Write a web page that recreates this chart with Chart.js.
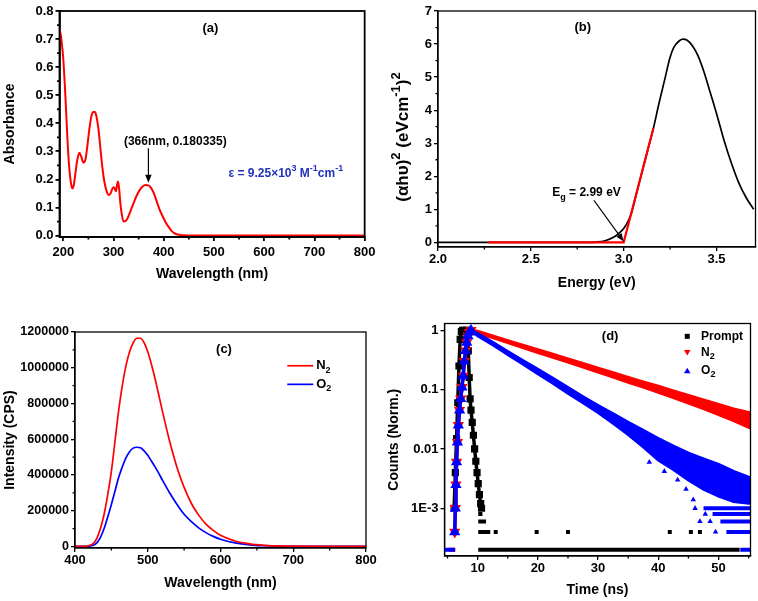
<!DOCTYPE html>
<html>
<head>
<meta charset="utf-8">
<script src="https://cdn.jsdelivr.net/npm/chart.js@4.4.1/dist/chart.umd.min.js"></script>
<style>
html,body{margin:0;padding:0;background:#fff;}
body{width:758px;height:601px;position:relative;overflow:hidden;}
canvas{position:absolute;}
</style>
</head>
<body>
<canvas id="chartA" width="379" height="300" style="left:0px;top:0px;width:379px;height:300px"></canvas>
<canvas id="chartB" width="379" height="300" style="left:379px;top:0px;width:379px;height:300px"></canvas>
<canvas id="chartC" width="379" height="301" style="left:0px;top:300px;width:379px;height:301px"></canvas>
<canvas id="chartD" width="379" height="301" style="left:379px;top:300px;width:379px;height:301px"></canvas>
<script>
// ---------------- Panel (a): absorbance ----------------
const absWavelength = [192,195,198,200,203,206,209,212,215,218,221,224,228,232,236,240,244,248,252,256,260,263,266,270,274,278,282,286,290,294,298,301,303,305,307,309,311,314,317,320,324,328,334,340,346,352,358,364,369,374,380,386,392,398,404,410,416,421,426,431,436,442,450,500,550,600,650,700,750,800];
const absValues = [0.738,0.715,0.67,0.63,0.54,0.43,0.32,0.24,0.19,0.168,0.18,0.22,0.27,0.295,0.28,0.26,0.27,0.32,0.38,0.425,0.44,0.44,0.425,0.38,0.31,0.24,0.19,0.16,0.145,0.15,0.168,0.172,0.165,0.158,0.18,0.193,0.17,0.11,0.07,0.05,0.052,0.062,0.088,0.116,0.142,0.162,0.175,0.18,0.179,0.172,0.152,0.122,0.092,0.068,0.047,0.03,0.016,0.009,0.005,0.003,0.0015,0.0008,0.0005,0.0005,0.0005,0.0005,0.0005,0.0005,0.0005,0.0005];
const absTicksX = [200,300,400,500,600,700,800];
const absLabelsX = ['200','300','400','500','600','700','800'];
const absTicksY = [0,0.1,0.2,0.3,0.4,0.5,0.6,0.7,0.8];
const absLabelsY = ['0.0','0.1','0.2','0.3','0.4','0.5','0.6','0.7','0.8'];

// ---------------- Panel (b): Tauc plot ----------------
const taucEnergy = [2.0,2.8,2.85,2.9,2.95,2.98,3.0,3.02,3.04,3.07,3.1,3.13,3.16,3.19,3.22,3.25,3.27,3.3,3.32,3.34,3.37,3.4,3.43,3.46,3.5,3.54,3.58,3.62,3.66,3.7];
const taucValues = [0,0,0.01,0.05,0.17,0.3,0.42,0.6,0.85,1.5,2.15,2.8,3.45,4.2,4.9,5.6,5.9,6.1,6.15,6.12,5.95,5.65,5.2,4.65,3.9,3.1,2.4,1.8,1.35,1.0];
const fitEnergy = [2.27,3.0,3.16];
const fitValues = [0,0,3.45];
const taucTicksX = [2.0,2.5,3.0,3.5];
const taucLabelsX = ['2.0','2.5','3.0','3.5'];
const taucTicksY = [0,1,2,3,4,5,6,7];
const taucLabelsY = ['0','1','2','3','4','5','6','7'];

// ---------------- Panel (c): emission ----------------
const emWavelength = [400,410,420,425,430,435,440,445,450,455,460,465,470,475,480,485,490,495,500,505,510,515,520,530,540,550,560,570,580,590,600,620,640,660,680,700,750,800];
const emN2 = [0,0,5000,15000,45000,100000,180000,290000,420000,590000,760000,900000,1010000,1090000,1140000,1165000,1165000,1140000,1090000,1020000,940000,850000,760000,590000,445000,330000,240000,175000,125000,90000,62000,30000,14000,6000,2500,1000,0,0];
const emO2 = [0,0,2000,6000,20000,50000,100000,165000,235000,310000,385000,445000,495000,530000,550000,555000,552000,535000,510000,478000,445000,410000,372000,300000,236000,180000,138000,104000,77000,56000,40000,20000,9000,4000,1500,500,0,0];
const emTicksX = [400,500,600,700,800];
const emLabelsX = ['400','500','600','700','800'];
const emTicksY = [0,200000,400000,600000,800000,1000000,1200000];
const emLabelsY = ['0','200000','400000','600000','800000','1000000','1200000'];

// ---------------- Panel (d): decays ----------------
const promptT = [6.1,6.3,6.5,6.7,6.9,7.1,7.3,7.5,7.8,8.1,8.3,8.45,8.6,8.75,8.9,9.1,9.3,9.5,9.7,9.9,10.1,10.3,10.5,10.65];
const promptY = [0.001,0.004,0.015,0.06,0.25,0.7,0.95,1.0,1.0,1.0,0.85,0.45,0.16,0.07,0.045,0.028,0.017,0.01,0.0062,0.004,0.0026,0.0017,0.0012,0.001];
const promptRowLevel = [0.0008,0.0006,0.0004,0.0002];
const promptRowStart = [10.1,10.1,10.1,10.1];
const promptRowEnd = [10.8,11.4,12.1,53.5];
const promptIsoT = [13.0,19.8,25.0,41.9,45.4,46.9];
const promptIsoY = [0.0004,0.0004,0.0004,0.0004,0.0004,0.0004];

const riseT = [6.2,6.3,6.4,6.5,6.65,6.8,7.0,7.2,7.4,7.6,7.8,8.0,8.2,8.4,8.6,8.9];
const n2Rise = [0.0004,0.001,0.0025,0.006,0.013,0.025,0.045,0.07,0.11,0.17,0.3,0.45,0.62,0.8,0.93,1.0];
const o2Rise = [0.0004,0.001,0.0025,0.006,0.013,0.025,0.045,0.07,0.11,0.17,0.3,0.45,0.62,0.8,0.93,1.0];

const bandT = [8.9,10,12.5,15,17.5,20,22.5,25,27.5,30,32.5,35,37.5,40,42.5,45,47.5,50,52.5,55.5];
const n2Upper = [1.0,0.96,0.80,0.67,0.56,0.47,0.395,0.33,0.275,0.23,0.192,0.16,0.135,0.114,0.095,0.08,0.067,0.056,0.047,0.040];
const n2Lower = [1.0,0.90,0.75,0.62,0.51,0.42,0.35,0.29,0.24,0.197,0.162,0.133,0.11,0.09,0.073,0.059,0.048,0.038,0.030,0.022];
const o2Upper = [1.0,0.88,0.63,0.44,0.31,0.22,0.155,0.108,0.076,0.054,0.039,0.028,0.0205,0.015,0.0112,0.0085,0.0068,0.0055,0.0042,0.0032];
const o2Lower = [1.0,0.81,0.57,0.39,0.27,0.185,0.128,0.087,0.06,0.041,0.027,0.0175,0.0108,0.0065,0.0045,0.003,0.0021,0.0016,0.0013,0.0012];

const o2RowLevel = [0.001,0.0008,0.0006,0.0004,0.0002,0.0002];
const o2RowStart = [47.5,49.0,50.3,51.3,53.6,4.5];
const o2RowEnd = [55.5,55.5,55.5,55.5,55.5,6.25];
const n2RowLevel = [0.0002];
const n2RowStart = [5.2];
const n2RowEnd = [6.3];
const o2IsoT = [38.5,41.0,43.2,44.6,45.8,46.1,46.9,47.8,48.6,49.5];
const o2IsoY = [0.006,0.0042,0.003,0.0021,0.0014,0.001,0.0006,0.0008,0.0006,0.0004];

const decayTicksX = [10,20,30,40,50];
const decayLabelsX = ['10','20','30','40','50'];
const decayTicksY = [0.001,0.01,0.1,1];
const decayLabelsY = ['1E-3','0.01','0.1','1'];

// ---------------- helpers ----------------
const FONT = "'Liberation Sans', Arial, Helvetica, sans-serif";
const RED = '#ff0000', BLUE = '#0000ff', BLACK = '#000000', TXTBLUE = '#2233bb';
Chart.defaults.font.family = FONT;

function zip(xs, ys){ return xs.map((x,i)=>({x:x, y:ys[i]})); }
function segs(levels, starts, ends){
  const out = [];
  levels.forEach((lv,i)=>{ out.push({x:starts[i],y:lv},{x:ends[i],y:lv},{x:ends[i],y:null}); });
  return out;
}
function mids(arr, min, max){
  const step = arr[1]-arr[0], out = [];
  for (let i=-1;i<arr.length;i++){
    const v = (i<0 ? arr[0]-step : arr[i]) + step/2;
    if (v>min && v<max) out.push(v);
  }
  return out;
}
function rich(ctx, x, y, parts, size, color, align, supScale){
  const sc = supScale || 0.72;
  let w = 0;
  const ps = parts.map(([t,k])=>{
    const fs = k==='n' ? size : Math.round(size*sc);
    ctx.font = 'bold '+fs+'px '+FONT;
    const mw = ctx.measureText(t).width; w += mw;
    return {t,k,fs,mw};
  });
  let cx = align==='center' ? x-w/2 : (align==='right' ? x-w : x);
  ctx.fillStyle = color; ctx.textBaseline = 'middle'; ctx.textAlign = 'left';
  ps.forEach(p=>{
    ctx.font = 'bold '+p.fs+'px '+FONT;
    const dy = p.k==='sup' ? -size*0.38 : (p.k==='sub' ? size*0.34 : 0);
    ctx.fillText(p.t, cx, y+dy);
    cx += p.mw;
  });
}
function arrow(ctx, x1,y1,x2,y2,color,w){
  const ang = Math.atan2(y2-y1,x2-x1), hl=8, hw=3.2;
  const bx = x2-hl*Math.cos(ang), by = y2-hl*Math.sin(ang);
  ctx.strokeStyle=color; ctx.fillStyle=color; ctx.lineWidth=w;
  ctx.beginPath(); ctx.moveTo(x1,y1); ctx.lineTo(bx,by); ctx.stroke();
  ctx.beginPath(); ctx.moveTo(x2,y2);
  ctx.lineTo(bx+hw*Math.sin(ang), by-hw*Math.cos(ang));
  ctx.lineTo(bx-hw*Math.sin(ang), by+hw*Math.cos(ang));
  ctx.closePath(); ctx.fill();
}
function axis(o){
  return {
    type: o.type || 'linear', position: o.pos, min: o.min, max: o.max,
    afterBuildTicks: s => { s.ticks = o.ticks.map(v=>({value:v})); },
    afterFit: s => { if (o.pos==='left') s.width = o.size; else s.height = o.size; },
    ticks: {
      autoSkip:false, maxRotation:0, minRotation:0, color:'#000',
      font:{family:FONT, size:o.tickSize, weight:'bold'}, padding:o.tickPad,
      callback: v => { const i = o.ticks.indexOf(v); return i>=0 ? o.labels[i] : ''; }
    },
    grid: {display:true, drawOnChartArea:false, drawTicks:true, tickLength:4, color:'#000', lineWidth:o.bw},
    border: {display:true, color:'#000', width:o.bw},
    title: o.title ? {display:true, text:o.title, color:'#000', font:{family:FONT,size:14,weight:'bold'}, padding:o.titlePad} : {display:false}
  };
}
function overlay(bw, minorX, minorY, draw){
  return {
    id:'overlay',
    afterDraw(chart){
      const {ctx, chartArea:a, scales} = chart;
      ctx.save();
      ctx.strokeStyle='#000'; ctx.lineWidth=bw;
      ctx.strokeRect(a.left, a.top, a.right-a.left, a.bottom-a.top);
      ctx.beginPath();
      minorX.forEach(v=>{ const p=scales.x.getPixelForValue(v); ctx.moveTo(p,a.bottom); ctx.lineTo(p,a.bottom+2.5); });
      minorY.forEach(v=>{ const p=scales.y.getPixelForValue(v); ctx.moveTo(a.left,p); ctx.lineTo(a.left-2.5,p); });
      ctx.stroke();
      if (draw) draw(ctx, chart);
      ctx.restore();
    }
  };
}
function makeChart(id, box, area, o){
  const xAxis = axis({pos:'bottom', type:o.xType, min:o.xMin, max:o.xMax, ticks:o.xTicks, labels:o.xLabels, tickSize:o.tickSize||13,
    size: box.y+box.h-area.B, title:o.xTitle, titlePad:{top:0,bottom:o.xTitlePad}, tickPad:o.xTickPad, bw:o.bw});
  const yAxis = axis({pos:'left', type:o.yType, min:o.yMin, max:o.yMax, ticks:o.yTicks, labels:o.yLabels, tickSize:o.yTickSize||13,
    size: area.L-box.x, title:o.yTitle, titlePad:{top:o.yTitlePad,bottom:0}, tickPad:o.yTickPad, bw:o.bw});
  return new Chart(document.getElementById(id), {
    type:'scatter',
    data:{datasets:o.datasets},
    options:{
      responsive:false, animation:false, events:[],
      layout:{padding:{left:0, top:area.T-box.y, right:box.x+box.w-area.R, bottom:0}},
      plugins:{legend:{display:false}, tooltip:{enabled:false}},
      scales:{x:xAxis, y:yAxis}
    },
    plugins:[overlay(o.bw, o.minorX, o.minorY, o.draw)]
  });
}
function P(ch,x,y){ return [ch.scales.x.getPixelForValue(x), ch.scales.y.getPixelForValue(y)]; }

// ---------------- chart (a) ----------------
makeChart('chartA', {x:0,y:0,w:379,h:300}, {L:59.5,T:11,R:366,B:237}, {
  bw:1.8, xMin:192.5, xMax:800, yMin:-0.005, yMax:0.8,
  xTicks:absTicksX, xLabels:absLabelsX, yTicks:absTicksY, yLabels:absLabelsY,
  xTitle:'Wavelength (nm)', xTitlePad:17, yTitle:'Absorbance', yTitlePad:2,
  xTickPad:3.5, yTickPad:2,
  minorX: mids(absTicksX,192.5,800), minorY: mids(absTicksY,-0.005,0.8),
  datasets:[{data:zip(absWavelength,absValues), showLine:true, borderColor:RED, borderWidth:2, pointRadius:0, cubicInterpolationMode:'monotone'}],
  draw:(ctx,ch)=>{
    let p = P(ch,493,0.738); rich(ctx,p[0],p[1],[['(a)','n']],13,BLACK,'center');
    p = P(ch,423,0.334); rich(ctx,p[0],p[1],[['(366nm, 0.180335)','n']],12,BLACK,'center');
    const a1 = P(ch,369.5,0.311), a2 = P(ch,369.5,0.188); arrow(ctx,a1[0],a1[1],a2[0],a2[1],BLACK,1.2);
    p = P(ch,643,0.222);
    rich(ctx,p[0],p[1],[['ε = 9.25×10','n'],['3','sup'],[' M','n'],['-1','sup'],['cm','n'],['-1','sup']],12,TXTBLUE,'center');
  }
});

// ---------------- chart (b) ----------------
makeChart('chartB', {x:379,y:0,w:379,h:300}, {L:438,T:11,R:755.5,B:247}, {
  bw:1.3, xMin:2.0, xMax:3.71, yMin:-0.14, yMax:7,
  xTicks:taucTicksX, xLabels:taucLabelsX, yTicks:taucTicksY, yLabels:taucLabelsY,
  xTitle:'Energy (eV)', xTitlePad:8, yTitle:null, xTickPad:0.5, yTickPad:2,
  minorX: mids(taucTicksX,2.0,3.71), minorY: mids(taucTicksY,-0.14,7),
  datasets:[
    {data:zip(fitEnergy,fitValues), showLine:true, borderColor:RED, borderWidth:2.2, pointRadius:0, order:0},
    {data:zip(taucEnergy,taucValues), showLine:true, borderColor:BLACK, borderWidth:1.7, pointRadius:0, cubicInterpolationMode:'monotone', order:1}
  ],
  draw:(ctx,ch)=>{
    let p = P(ch,2.78,6.5); rich(ctx,p[0],p[1],[['(b)','n']],13,BLACK,'center');
    p = P(ch,2.80,1.49); rich(ctx,p[0],p[1],[['E','n'],['g','sub'],[' = 2.99 eV','n']],12,BLACK,'center');
    const a1 = P(ch,2.84,1.27), a2 = P(ch,3.0,0.03); arrow(ctx,a1[0],a1[1],a2[0],a2[1],BLACK,1.1);
    ctx.save(); ctx.translate(24,137); ctx.rotate(-Math.PI/2);
    rich(ctx,0,0,[['(αhυ)','n'],['2','sup'],[' (eVcm','n'],['-1','sup'],[')','n'],['2','sup']],17,BLACK,'center',0.78);
    ctx.restore();
  }
});

// ---------------- chart (c) ----------------
makeChart('chartC', {x:0,y:300,w:379,h:301}, {L:75,T:332,R:366,B:548}, {
  bw:1.3, xMin:400, xMax:800, yMin:-9000, yMax:1200000, yTickSize:12.5,
  xTicks:emTicksX, xLabels:emLabelsX, yTicks:emTicksY, yLabels:emLabelsY,
  xTitle:'Wavelength (nm)', xTitlePad:9, yTitle:'Intensity (CPS)', yTitlePad:1.5, xTickPad:0.5, yTickPad:2,
  minorX: mids(emTicksX,400,800), minorY: mids(emTicksY,-9000,1200000),
  datasets:[
    {data:zip(emWavelength,emN2), showLine:true, borderColor:RED, borderWidth:1.7, pointRadius:0, cubicInterpolationMode:'monotone'},
    {data:zip(emWavelength,emO2), showLine:true, borderColor:BLUE, borderWidth:1.7, pointRadius:0, cubicInterpolationMode:'monotone'}
  ],
  draw:(ctx,ch)=>{
    let p = P(ch,604.8,1102800); rich(ctx,p[0],p[1],[['(c)','n']],13,BLACK,'center');
    let a = P(ch,691.8,1011000), b = P(ch,727.5,1011000);
    ctx.strokeStyle=RED; ctx.lineWidth=1.7; ctx.beginPath(); ctx.moveTo(a[0],a[1]); ctx.lineTo(b[0],b[1]); ctx.stroke();
    p = P(ch,731.5,1011000); rich(ctx,p[0],p[1],[['N','n'],['2','sub']],13,BLACK,'left');
    a = P(ch,691.8,907000); b = P(ch,727.5,907000);
    ctx.strokeStyle=BLUE; ctx.beginPath(); ctx.moveTo(a[0],a[1]); ctx.lineTo(b[0],b[1]); ctx.stroke();
    p = P(ch,731.5,907000); rich(ctx,p[0],p[1],[['O','n'],['2','sub']],13,BLACK,'left');
  }
});

// ---------------- chart (d) ----------------
makeChart('chartD', {x:379,y:300,w:379,h:301}, {L:444.5,T:323.5,R:755.5,B:556}, {
  bw:1.3, xMin:4.5, xMax:55.3, yMin:0.000157, yMax:1.3, yType:'logarithmic',
  xTicks:decayTicksX, xLabels:decayLabelsX, yTicks:decayTicksY, yLabels:decayLabelsY,
  xTitle:'Time (ns)', xTitlePad:2, yTitle:'Counts (Norm.)', yTitlePad:7, xTickPad:0.5, yTickPad:2,
  minorX: mids(decayTicksX,4.5,55.3), minorY: [],
  datasets:[
    {data:segs(o2RowLevel,o2RowStart,o2RowEnd), showLine:true, spanGaps:false, borderColor:BLUE, borderWidth:4, pointRadius:0, order:0},
    {data:zip(o2IsoT,o2IsoY), pointStyle:'triangle', pointRadius:3.2, backgroundColor:BLUE, borderColor:BLUE, borderWidth:0, order:0},
    {data:zip(bandT,o2Upper), showLine:true, borderColor:BLUE, borderWidth:3, pointRadius:0, fill:false, order:1},
    {data:zip(bandT,o2Lower), showLine:true, borderColor:BLUE, borderWidth:3, pointRadius:0, fill:'-1', backgroundColor:BLUE, order:1},
    {data:zip(riseT,o2Rise), showLine:true, borderColor:BLUE, borderWidth:3.5, pointStyle:'triangle', pointRadius:3, backgroundColor:BLUE, order:1},
    {data:segs(n2RowLevel,n2RowStart,n2RowEnd), showLine:true, spanGaps:false, borderColor:RED, borderWidth:4, pointRadius:0, order:2},
    {data:zip(bandT,n2Upper), showLine:true, borderColor:RED, borderWidth:3, pointRadius:0, fill:false, order:2},
    {data:zip(bandT,n2Lower), showLine:true, borderColor:RED, borderWidth:3, pointRadius:0, fill:'-1', backgroundColor:RED, order:2},
    {data:zip(riseT,n2Rise), showLine:true, borderColor:RED, borderWidth:3.5, pointStyle:'triangle', rotation:180, pointRadius:3, backgroundColor:RED, order:2},
    {data:zip(promptT,promptY), showLine:true, borderColor:BLACK, borderWidth:3.5, pointStyle:'rect', pointRadius:2.6, backgroundColor:BLACK, order:3},
    {data:segs(promptRowLevel,promptRowStart,promptRowEnd), showLine:true, spanGaps:false, borderColor:BLACK, borderWidth:4, pointRadius:0, order:3},
    {data:zip(promptIsoT,promptIsoY), pointStyle:'rect', pointRadius:2.8, backgroundColor:BLACK, borderWidth:0, order:3}
  ],
  draw:(ctx,ch)=>{
    let p = P(ch,32.0,0.79); rich(ctx,p[0],p[1],[['(d)','n']],13,BLACK,'center');
    const mx = 44.8, tx = 47.1, ys = [0.79,0.42,0.207];
    p = P(ch,mx,ys[0]); ctx.fillStyle=BLACK; ctx.fillRect(p[0]-2.5,p[1]-2.5,5,5);
    rich(ctx,P(ch,tx,ys[0])[0],p[1],[['Prompt','n']],12,BLACK,'left');
    p = P(ch,mx,ys[1]); ctx.fillStyle=RED; ctx.beginPath(); ctx.moveTo(p[0]-3.3,p[1]-2.5); ctx.lineTo(p[0]+3.3,p[1]-2.5); ctx.lineTo(p[0],p[1]+3); ctx.closePath(); ctx.fill();
    rich(ctx,P(ch,tx,ys[1])[0],p[1],[['N','n'],['2','sub']],12,BLACK,'left');
    p = P(ch,mx,ys[2]); ctx.fillStyle=BLUE; ctx.beginPath(); ctx.moveTo(p[0]-3.3,p[1]+2.5); ctx.lineTo(p[0]+3.3,p[1]+2.5); ctx.lineTo(p[0],p[1]-3); ctx.closePath(); ctx.fill();
    rich(ctx,P(ch,tx,ys[2])[0],p[1],[['O','n'],['2','sub']],12,BLACK,'left');
  }
});
</script>
</body>
</html>
